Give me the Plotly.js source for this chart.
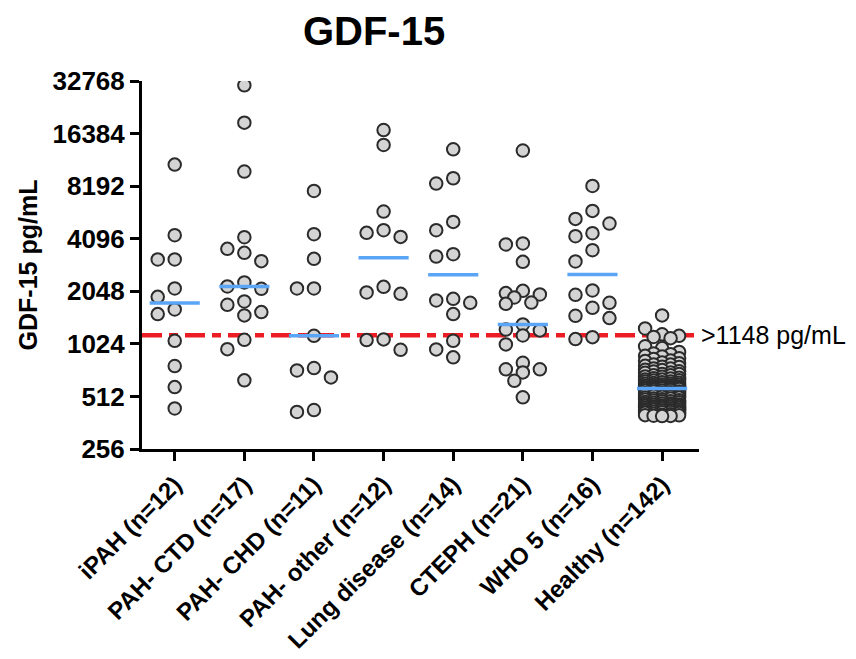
<!DOCTYPE html>
<html><head><meta charset="utf-8">
<script src="https://cdn.plot.ly/plotly-3.0.1.min.js"></script>
<style>html,body{margin:0;padding:0;background:#fff}#chart{width:856px;height:659px}</style>
</head><body><div id="chart"></div>
<script>
// ---- data ----
const categories = ["iPAH (n=12)", "PAH- CTD (n=17)", "PAH- CHD (n=11)", "PAH- other (n=12)",
  "Lung disease (n=14)", "CTEPH (n=21)", "WHO 5 (n=16)", "Healthy (n=142)"];
const iPAH = [10880, 4290, 3115, 3115, 2126, 1903, 1612, 1516, 1066, 764, 579, 437];
const pahCTD = [30950, 18920, 9930, 4178, 3583, 3400, 3047, 2301, 2183, 2115, 1791, 1713, 1556, 1490, 1080, 955, 633];
const pahCHD = [7690, 4347, 3140, 2126, 2126, 1139, 744, 721, 658, 428, 417];
const pahOther = [17170, 14100, 5863, 4583, 4424, 4196, 2171, 2017, 1980, 1086, 1076, 947];
const lungDisease = [13320, 9090, 8477, 5112, 4583, 3341, 3240, 1853, 1815, 1759, 1516, 1066, 952, 857];
const cteph = [13100, 3846, 3797, 3019, 2060, 1999, 1964, 1888, 1764, 1735, 1323, 1237, 1223, 1144, 1017, 798, 732, 732, 703, 629, 506];
const who5 = [8216, 5911, 5320, 5005, 4405, 4234, 3522, 3034, 2071, 1955, 1759, 1647, 1482, 1438, 1119, 1090];
const healthy = [1490, 1255, 1162, 1138, 1121, 1104, 992, 968, 921, 902,
  893, 874, 868, 847, 839, 821, 818, 801, 794, 779,
  781, 766, 758, 755, 741, 739, 727, 725, 713, 712,
  701, 699, 689, 688, 677, 676, 664, 666, 655, 651,
  649, 641, 639, 632, 633, 624, 623, 617, 613, 611,
  606, 605, 599, 597, 596, 591, 590, 585, 583, 581,
  579, 578, 577, 574, 575, 573, 572, 571, 570, 572,
  569,
  568, 565, 564, 559, 558, 553, 552, 547, 546, 541,
  540, 535, 534, 529, 528, 523, 522, 517, 516, 511,
  510, 505, 504, 499, 498, 493, 492, 487, 486, 481,
  480, 475, 474, 471, 467, 466, 463, 461, 459, 457,
  455, 453, 451, 449, 447, 445, 443, 441, 439, 437,
  435, 433, 431, 429, 427, 425, 423, 421, 419, 417,
  416, 413, 411, 408, 405, 402, 400, 399, 397, 396, 395];
const threshold = 1148;
const thresholdLabel = ">1148 pg/mL";
const yTickVals = [256, 512, 1024, 2048, 4096, 8192, 16384, 32768];
const groups = [iPAH, pahCTD, pahCHD, pahOther, lungDisease, cteph, who5, healthy];

// ---- layout helpers ----
const PLOT_W = 557, PLOT_H = 368;
const X_MIN = -0.47, X_MAX = 7.53;
const Y_MIN = Math.log10(256), Y_MAX = Math.log10(32768);
const pxPerX = PLOT_W / (X_MAX - X_MIN);
const pxPerLog = PLOT_H / (Y_MAX - Y_MIN);

function median(a) {
  const s = a.slice().sort((p, q) => p - q);
  const n = s.length;
  return n % 2 ? s[(n - 1) / 2] : (s[n / 2 - 1] + s[n / 2]) / 2;
}

// simple beeswarm in pixel space: offsets chosen so markers do not overlap
function swarm(vals) {
  const D = 13.5;
  const cands = [0, -17, 17, -8.5, 8.5];
  const order = vals.map((v, i) => i).sort((a, b) => vals[b] - vals[a]);
  const placed = [];
  const offs = new Array(vals.length).fill(0);
  order.forEach(i => {
    const py = Math.log10(vals[i]) * pxPerLog;
    let best = null, bestDist = -1;
    for (const c of cands) {
      let md = Infinity;
      for (const p of placed) {
        const d = Math.hypot(p[0] - c, p[1] - py);
        if (d < md) md = d;
      }
      if (md >= D) { best = c; bestDist = md; break; }
      if (md > bestDist) { bestDist = md; best = c; }
    }
    placed.push([best, py]);
    offs[i] = best / pxPerX;
  });
  return offs;
}

const traces = [];
// threshold line (under points)
traces.push({
  x: [X_MIN, X_MAX], y: [threshold, threshold], mode: "lines", type: "scatter",
  line: { color: "#ec1c24", width: 4.5, dash: "20px,7px,9px,7px" }, hoverinfo: "skip"
});
// points
const px = [], py = [];
groups.forEach((g, gi) => {
  const offs = swarm(g);
  g.forEach((v, k) => { px.push(gi + offs[k]); py.push(v); });
});
traces.push({
  x: px, y: py, mode: "markers", type: "scatter",
  marker: { size: 12.5, color: "#d4d4d4", line: { color: "#2b2b2b", width: 2 } }
});
// medians
const mx = [], my = [];
groups.forEach((g, gi) => {
  const m = median(g);
  mx.push(gi - 0.36, gi + 0.36, null); my.push(m, m, null);
});
traces.push({
  x: mx, y: my, mode: "lines", type: "scatter",
  line: { color: "#5aa5f5", width: 3.5 }, hoverinfo: "skip"
});

const FONT = "Liberation Sans, Arial, Helvetica, sans-serif";
const layout = {
  width: 856, height: 659,
  margin: { l: 142, r: 157, t: 81, b: 210 },
  paper_bgcolor: "#fff", plot_bgcolor: "#fff",
  showlegend: false,
  font: { family: FONT, color: "#000" },
  title: {
    text: "GDF-15", font: { size: 40, weight: "bold", family: FONT, color: "#000" },
    xref: "paper", x: (374 - 142) / 557, xanchor: "center",
    yref: "container", y: 1 - 31 / 659, yanchor: "middle"
  },
  xaxis: {
    range: [X_MIN, X_MAX], tickvals: categories.map((c, i) => i), ticktext: categories,
    tickangle: -45, showgrid: false, zeroline: false,
    showline: true, linecolor: "#000", linewidth: 3,
    ticks: "outside", ticklen: 9, tickwidth: 3, tickcolor: "#000",
    tickfont: { size: 24, weight: "bold", family: FONT, color: "#000" }
  },
  yaxis: {
    type: "log", range: [Y_MIN, Y_MAX], tickvals: yTickVals, ticktext: yTickVals.map(String),
    showgrid: false, zeroline: false,
    showline: true, linecolor: "#000", linewidth: 3,
    ticks: "outside", ticklen: 9, tickwidth: 3, tickcolor: "#000",
    tickfont: { size: 26, weight: "bold", family: FONT, color: "#000" },
    title: { text: "GDF-15 pg/mL", font: { size: 25, weight: "bold", family: FONT, color: "#000" }, standoff: 8 }
  },
  annotations: [{
    text: thresholdLabel, xref: "paper", x: 1.0, xanchor: "left",
    yref: "y", y: Math.log10(threshold), yanchor: "middle", showarrow: false,
    font: { size: 25, family: FONT, color: "#000" }
  }]
};
Plotly.newPlot("chart", traces, layout, { displayModeBar: false, staticPlot: true });
</script>
</body></html>
